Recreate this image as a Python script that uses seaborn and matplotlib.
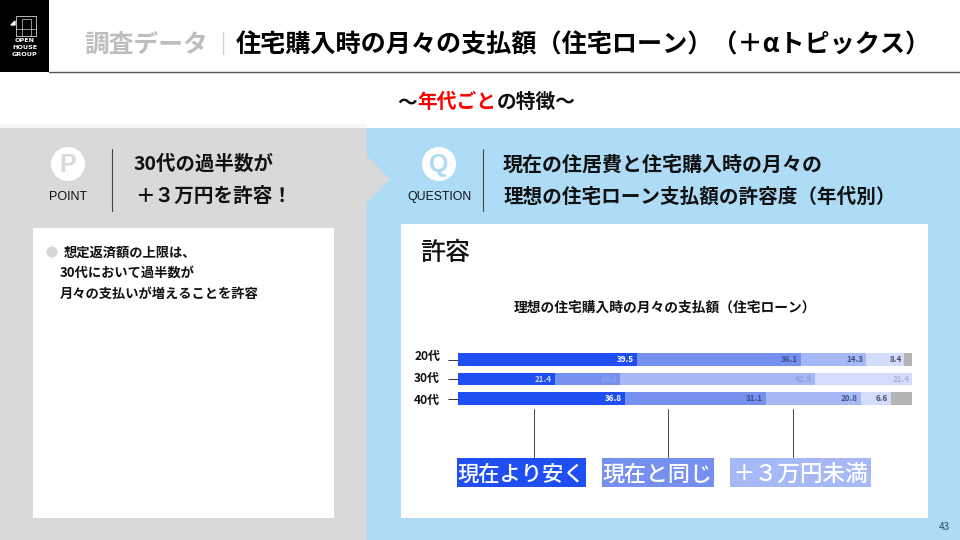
# Slide recreation: monthly housing loan payment tolerance by age group
import numpy as np
import matplotlib
matplotlib.use("Agg")
import matplotlib.pyplot as plt
from matplotlib.patches import Rectangle, Circle, Polygon
import seaborn as sns

# ── Data ─────────────────────────────────────────────────────────────────────
ages = ["20代", "30代", "40代"]
cheaper = [39.5, 21.4, 36.8]
same = [36.1, 14.3, 31.1]
under_3 = [14.3, 42.9, 20.8]
over_3 = [8.4, 21.4, 6.6]
no_answer = [1.7, 0.0, 4.7]

series = [cheaper, same, under_3, over_3, no_answer]
series_colors = ["#1f4ff2", "#7590ef", "#a6b8f6", "#d3dcfb", "#b4b4b4"]
label_colors = [
    ["#ffffff", "#c9d3f5", "#ffffff"],
    ["#3c4f86", "#8d9fd8", "#3c4f86"],
    ["#43527f", "#8d9fd8", "#43527f"],
    ["#4a5068", "#a9b3d0", "#4a5068"],
]
legend_labels = ["現在より安く", "現在と同じ", "＋３万円未満"]

W, H = 960, 540
sns.set_theme(style="white")
plt.rcParams["font.family"] = ["Noto Sans CJK JP", "DejaVu Sans"]

fig = plt.figure(figsize=(W / 100, H / 100), dpi=100, facecolor="white")

# Background layer in pixel coordinates
bg = fig.add_axes([0, 0, 1, 1])
bg.set_xlim(0, W)
bg.set_ylim(H, 0)
bg.axis("off")


def box(x0, y0, x1, y1, color, **kw):
    bg.add_patch(Rectangle((x0, y0), x1 - x0, y1 - y0, facecolor=color, edgecolor="none", **kw))


def label(x, y, s, size, color="#111111", weight="bold", ha="left", **kw):
    # CJK glyphs sit high with va=center, nudge them down in proportion to size
    bg.text(x, y + size * 0.11, s, fontsize=size, color=color, fontweight=weight, ha=ha, va="center", **kw)


# ── Header ───────────────────────────────────────────────────────────────────
box(0, 0, 49, 72, "#000000")
bg.plot([49, 960], [72, 72], color="#555555", lw=1.0)
bg.add_patch(Rectangle((15.5, 15.5), 20, 20, fill=False, edgecolor="white", lw=0.5))
bg.plot([15.5, 35.5], [29, 29], color="white", lw=0.4)
bg.plot([22, 22, 31, 31], [35.5, 19, 19, 35.5], color="white", lw=0.4)
bg.add_patch(Polygon([[11, 25], [15, 21], [15, 25]], facecolor="white"))
for y, word in zip([41, 47.5, 54], ["OPEN", "HOUSE", "GROUP"]):
    bg.text(25, y, word, fontsize=4.6, color="white", fontweight="bold", ha="center", va="center",
            family="DejaVu Sans")

label(84, 43, "調査データ", 17.8, color="#bdbdbd")
bg.plot([222.5, 222.5], [32, 54], color="#d0d0d0", lw=1.0)
label(236, 43, "住宅購入時の月々の支払額（住宅ローン）（＋αトピックス）", 18.1, color="#000000")

# Subtitle, one piece per colour
label(397, 101, "～", 14.2)
label(417, 101, "年代ごと", 14.2, color="#ff0000")
label(497, 101, "の特徴～", 14.2)

# ── Panels ───────────────────────────────────────────────────────────────────
box(0, 124, 367, 128, "#f6f6f6")
box(0, 128, 367, 540, "#d9d9d9")
box(367, 128, 960, 540, "#aedcf7")
bg.add_patch(Polygon([[367, 156], [390, 179], [367, 202]], facecolor="#d9d9d9", edgecolor="none"))
box(33, 228, 334, 518, "#ffffff")
box(401, 224, 928, 518, "#ffffff")

# POINT block
bg.add_patch(Circle((68, 164), 17, facecolor="white", edgecolor="none"))
bg.text(68, 165, "P", fontsize=18, color="#d9d9d9", fontweight="bold", ha="center", va="center",
        family="Liberation Sans")
bg.text(68, 197, "POINT", fontsize=9, color="#111111", ha="center", va="center", family="Liberation Sans")
bg.plot([111.5, 111.5], [149, 211], color="#444444", lw=0.8)
label(134, 163, "30代の過半数が", 14)
label(135, 195, "＋３万円を許容！", 14.1)

# QUESTION block
bg.add_patch(Circle((439, 164), 17, facecolor="white", edgecolor="none"))
bg.text(439, 165, "Q", fontsize=18, color="#aedcf7", fontweight="bold", ha="center", va="center",
        family="Liberation Sans")
bg.text(439, 197, "QUESTION", fontsize=8.8, color="#111111", ha="center", va="center", family="Liberation Sans")
bg.plot([482.5, 482.5], [149, 211], color="#444444", lw=0.8)
label(503, 163, "現在の住居費と住宅購入時の月々の", 14.4)
label(503, 195, "理想の住宅ローン支払額の許容度（年代別）", 14.1)

# Left card
bg.add_patch(Circle((52, 252), 5.5, facecolor="#d4d4d4", edgecolor="none"))
label(64, 252, "想定返済額の上限は、", 9.55)
label(60, 272, "30代において過半数が", 9.55)
label(60, 293, "月々の支払いが増えることを許容", 9.55)

# Right card
label(420, 251, "許容", 18, weight="medium")
label(665, 307, "理想の住宅購入時の月々の支払額（住宅ローン）", 9.9, ha="center")
for y, age in zip([356, 378, 400], ages):
    label(440, y, age, 8.6, ha="right")

# ── Stacked bars: longest cumulative first so shorter ones paint on top ──────
ax_left, ax_right, ax_top, ax_bottom = 457.5, 912, 350, 408.2
ax = fig.add_axes([ax_left / W, 1 - ax_bottom / H, (ax_right - ax_left) / W, (ax_bottom - ax_top) / H])
ax.patch.set_alpha(0)

cumulative = np.cumsum(np.array(series), axis=0)
for values, color in zip(cumulative[::-1], series_colors[::-1]):
    sns.barplot(x=values, y=ages, color=color, saturation=1, width=0.65, linewidth=0, edgecolor="none", ax=ax)

ax.set_xlim(0, 100)
ax.set_ylim(2.5, -0.5)
ax.set_xlabel("")
ax.set_ylabel("")
ax.set_xticks([])
ax.set_yticklabels([])
ax.tick_params(axis="y", left=True, length=7.2, width=0.7, color="#333333", pad=0)
sns.despine(ax=ax, left=True, bottom=True)

# Value labels sit just inside the right end of each segment
for seg, values in enumerate(series[:-1]):
    for row, v in enumerate(values):
        ax.annotate(f"{v:.1f}", (cumulative[seg][row], row), xytext=(-2, 0),
                    textcoords="offset points", ha="right", va="center",
                    fontsize=5.8, fontweight="bold", color=label_colors[seg][row])

# ── Callouts ─────────────────────────────────────────────────────────────────
callouts = [(533.5, 456.5, 585.5), (668, 601.5, 713.5), (792.5, 730, 871)]
callout_sizes = [15.3, 15.8, 16.3]
for (lx, x0, x1), text, color, size in zip(callouts, legend_labels, series_colors, callout_sizes):
    bg.plot([lx, lx], [409, 456.5], color="#444444", lw=0.7)
    box(x0, 457.5, x1, 487, color)
    # shared baseline so the three labels line up
    bg.text((x0 + x1) / 2, 481, text, fontsize=size, color="white", fontweight="medium", ha="center", va="baseline")

label(944.5, 526.5, "43", 7, color="#3f5f73", ha="center", weight="medium")

fig.savefig("out.png", dpi=100)
